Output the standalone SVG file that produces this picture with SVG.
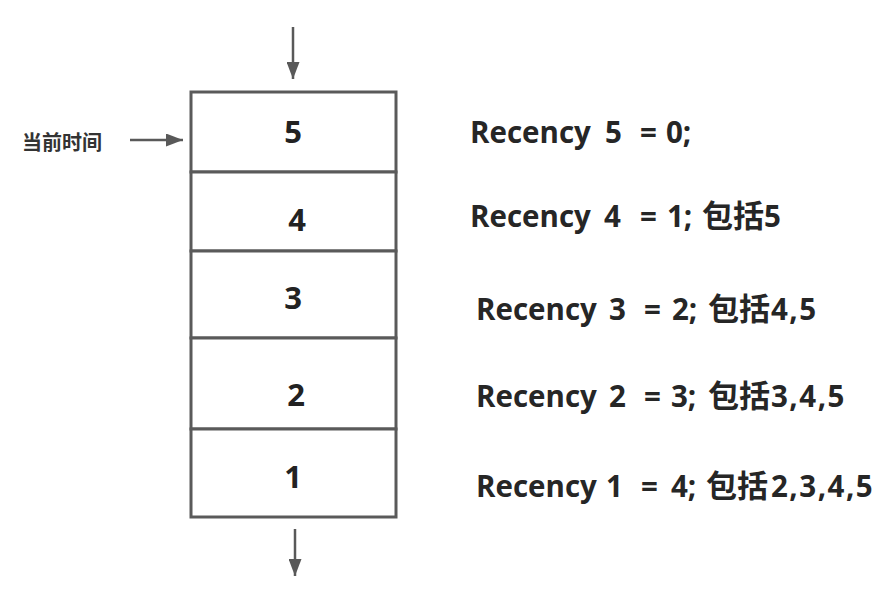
<svg xmlns="http://www.w3.org/2000/svg" width="893" height="589" viewBox="0 0 893 589">
<style>
.box{fill:#fff;stroke:#5a5a5a;stroke-width:3}
.num{font-family:"Open Sans","Noto Sans","Noto Sans CJK SC",sans-serif;font-weight:bold;font-size:31px;fill:#222;text-anchor:middle}
.rec{font-family:"Open Sans","Noto Sans CJK SC",sans-serif;font-weight:bold;font-size:29.5px;fill:#262626}
.cjk{font-family:"Noto Sans CJK SC",sans-serif;font-size:31px}
.dl{letter-spacing:1.5px}
.lbl{font-family:"Noto Sans CJK SC",sans-serif;font-weight:bold;font-size:20px;fill:#333}
.conn{stroke:#595959;stroke-width:2.5;fill:none}
</style>
<defs>
<marker id="ah" viewBox="0 0 17 13" refX="17" refY="6.5" markerWidth="17" markerHeight="13" markerUnits="userSpaceOnUse" orient="auto">
<path d="M0,0 L17,6.5 L0,13 z" fill="#595959"/>
</marker>
</defs>
<rect width="893" height="589" fill="#fff"/>
<g id="cell5"><rect class="box" x="191" y="92" width="205" height="80"/><text class="num" x="293" y="143">5</text></g>
<g id="cell4"><rect class="box" x="191" y="172" width="205" height="79"/><text class="num" x="297" y="231">4</text></g>
<g id="cell3"><rect class="box" x="191" y="251" width="205" height="87"/><text class="num" x="293" y="309">3</text></g>
<g id="cell2"><rect class="box" x="191" y="338" width="205" height="91"/><text class="num" x="296" y="406">2</text></g>
<g id="cell1"><rect class="box" x="191" y="429" width="205" height="88"/><text class="num" x="293" y="488">1</text></g>
<g id="label-now"><text class="lbl" x="22" y="150">当前时间</text></g>
<g id="recency">
<text class="rec" y="143"><tspan x="470">Recency </tspan><tspan x="605">5 </tspan><tspan x="640">= </tspan><tspan x="666">0;</tspan></text>
<text class="rec" y="227"><tspan x="470">Recency </tspan><tspan x="604">4 </tspan><tspan x="640">= </tspan><tspan x="667">1; </tspan><tspan class="cjk" x="702">包括</tspan><tspan class="dl" x="764">5</tspan></text>
<text class="rec" y="320"><tspan x="476">Recency </tspan><tspan x="609">3 </tspan><tspan x="644">= </tspan><tspan x="672">2; </tspan><tspan class="cjk" x="708">包括</tspan><tspan class="dl" x="771">4,5</tspan></text>
<text class="rec" y="407"><tspan x="476">Recency </tspan><tspan x="609">2 </tspan><tspan x="644">= </tspan><tspan x="671">3; </tspan><tspan class="cjk" x="708">包括</tspan><tspan class="dl" x="771">3,4,5</tspan></text>
<text class="rec" y="497"><tspan x="476">Recency </tspan><tspan x="606">1 </tspan><tspan x="641">= </tspan><tspan x="671">4; </tspan><tspan class="cjk" x="706">包括</tspan><tspan class="dl" x="771">2,3,4,5</tspan></text>
</g>
<g id="connectors">
<line class="conn" x1="293" y1="27" x2="293" y2="79" marker-end="url(#ah)"/>
<line class="conn" x1="295" y1="529" x2="295" y2="576" marker-end="url(#ah)"/>
<line class="conn" x1="130" y1="140" x2="183" y2="140" marker-end="url(#ah)"/>
</g>
</svg>
